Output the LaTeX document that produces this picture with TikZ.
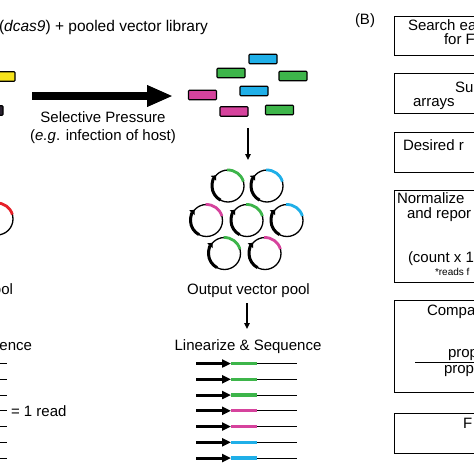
\documentclass[tikz,border=0pt]{standalone}
\usepackage{fontspec}
\setmainfont{Liberation Sans}
\usetikzlibrary{arrows.meta}
\definecolor{cgreen}{HTML}{3DB54A}
\definecolor{cblue}{HTML}{1FAFE8}
\definecolor{cmag}{HTML}{D6439D}
\definecolor{cyel}{HTML}{F6E31B}
\definecolor{cred}{HTML}{E62129}
\definecolor{cdark}{HTML}{2A2230}
\begin{document}
\begin{tikzpicture}[x=1pt,y=-1pt,
  font=\fontsize{15}{18}\selectfont,
  txt/.style={inner sep=0pt, outer sep=0pt},
  bar/.style={draw=black, line width=1.1pt, rounded corners=0.8pt, minimum width=28pt, minimum height=9.5pt, inner sep=0pt},
  box/.style={draw=black, line width=1.4pt, inner sep=0pt, anchor=north west, minimum width=100pt},
  pics/plasmid/.style={code={
    \draw[line width=1.3pt] (0,0) circle[radius=16];
    \draw[line width=2.8pt,#1] (-93:16) arc[start angle=-93,end angle=-16,radius=16];
    \draw[line width=3pt,-{Triangle[length=4pt,width=7pt]}] (118:16) arc[start angle=118,end angle=222,radius=16];
  }},
  pics/readrow/.style={code={
    \coordinate (-a) at (0,0);
    \coordinate (-b) at (35,0);
    \coordinate (-c) at (61,0);
    \coordinate (-d) at (101,0);
    \draw[line width=3pt,-{Triangle[length=9pt,width=8pt]}] (-a) -- (-b);
    \draw[line width=3.3pt,#1] (-b) -- (-c);
    \draw[line width=1pt] (-c) -- (-d);
  }},
  darrow/.style={line width=1.5pt,-{Triangle[length=6pt,width=5.5pt]}}
]
\useasboundingbox (0,0) rectangle (474,474);
\clip (0,0) rectangle (474,474);
\fill[white] (0,0) rectangle (474,474);

% ---------- panel A ----------
\node[txt, anchor=base east, font=\fontsize{15.5}{18}\selectfont] (title) at (208,31) {(\textit{dcas9}) + pooled vector library};

% input library (cut off at left)
\node[bar, fill=cyel] (inY) at (1,76.5) {};
\node[bar, fill=cdark] (inD) at (-11,110.5) {};

% big arrow
\coordinate (bigS) at (32,96);
\coordinate (bigE) at (173,96);
\draw[line width=8pt,-{Triangle[length=26pt,width=20pt]}] (bigS) -- (bigE);
\node[txt, anchor=base] (sel1) at (103,122) {Selective Pressure};
\node[txt, anchor=base] (sel2) at (103,140) {(\textit{e.g}. infection of host)};

% output library bars
\node[bar, fill=cblue]  (o1) at (263,59) {};
\node[bar, fill=cgreen] (o2) at (231,73) {};
\node[bar, fill=cgreen] (o3) at (293,76) {};
\node[bar, fill=cblue]  (o4) at (254,91) {};
\node[bar, fill=cmag]   (o5) at (202.5,95) {};
\node[bar, fill=cmag]   (o6) at (234,111.5) {};
\node[bar, fill=cgreen] (o7) at (279.5,110) {};

\coordinate (a1s) at (248,128);
\coordinate (a1e) at (248,160);
\draw[darrow] (a1s) -- (a1e);

% plasmids
\pic (pl) at (-3,219) {plasmid=cred};
\pic (p1) at (228,186) {plasmid=cgreen};
\pic (p2) at (267,186) {plasmid=cblue};
\pic (p3) at (206.5,220.5) {plasmid=cmag};
\pic (p4) at (247,220.5) {plasmid=cgreen};
\pic (p5) at (287,220.5) {plasmid=cblue};
\pic (p6) at (224.5,253.5) {plasmid=cgreen};
\pic (p7) at (265,253.5) {plasmid=cmag};

\node[txt, anchor=base east] (inpool) at (13,294) {pool};
\node[txt, anchor=base] (outpool) at (248.5,294) {Output vector pool};

\coordinate (a2s) at (247,303);
\coordinate (a2e) at (247,329);
\draw[darrow] (a2s) -- (a2e);

\node[txt, anchor=base east] (inseq) at (32,350.7) {Sequence};
\node[txt, anchor=base] (outseq) at (248,350.7) {Linearize \& Sequence};

% reads
\pic (r1) at (196,363.5) {readrow=cgreen};
\pic (r2) at (196,379.3) {readrow=cgreen};
\pic (r3) at (196,395) {readrow=cgreen};
\pic (r4) at (196,410.8) {readrow=cmag};
\pic (r5) at (196,426.5) {readrow=cmag};
\pic (r6) at (196,442.3) {readrow=cblue};
\pic (r7) at (196,458) {readrow=cblue};

\pic (l1) at (-94,363.5) {readrow=cgreen};
\pic (l2) at (-94,379.3) {readrow=cgreen};
\pic (l3) at (-94,395) {readrow=cgreen};
\pic (l4) at (-94,410.8) {readrow=cmag};
\pic (l5) at (-94,426.5) {readrow=cmag};
\pic (l6) at (-94,442.3) {readrow=cblue};
\pic (l7) at (-94,458) {readrow=cblue};
\node[txt, anchor=base west] (oneread) at (11,416.5) {= 1 read};

% ---------- panel B ----------
\node[txt, anchor=base west] (B) at (355,24) {(B)};

\node[box, minimum height=39pt] (b1) at (394,16) {};
\node[box, minimum height=40pt] (b2) at (394,73) {};
\node[box, minimum height=40pt] (b3) at (394,132) {};
\node[box, minimum height=92pt] (b4) at (394,190) {};
\node[box, minimum height=92pt] (b5) at (394,300) {};
\node[box, minimum height=40pt] (b6) at (394,413) {};

\node[txt, anchor=base west] (t11) at (408,30.7) {Search ea};
\node[txt, anchor=base west] (t12) at (444,44.5) {for F};
\node[txt, anchor=base west] (t21) at (455,92.7) {Su};
\node[txt, anchor=base west] (t22) at (413,106) {arrays};
\node[txt, anchor=base west] (t31) at (403,150) {Desired r};
\node[txt, anchor=base west] (t41) at (397,203.3) {Normalize};
\node[txt, anchor=base west] (t42) at (407,218.3) {and repor};
\node[txt, anchor=base west] (t43) at (408,262) {(count x 1};
\node[txt, anchor=base west, font=\fontsize{10}{12}\selectfont] (t44) at (435,275.7) {*reads f};
\node[txt, anchor=base west] (t51) at (427,315) {Compa};
\node[txt, anchor=base west] (t52) at (448,357.5) {prop};
\coordinate (fracS) at (415,362.5);
\coordinate (fracE) at (480,362.5);
\draw[line width=1.3pt] (fracS) -- (fracE);
\node[txt, anchor=base west] (t53) at (444,373.5) {prop};
\node[txt, anchor=base west] (t61) at (463,428) {F};
\end{tikzpicture}
\end{document}
